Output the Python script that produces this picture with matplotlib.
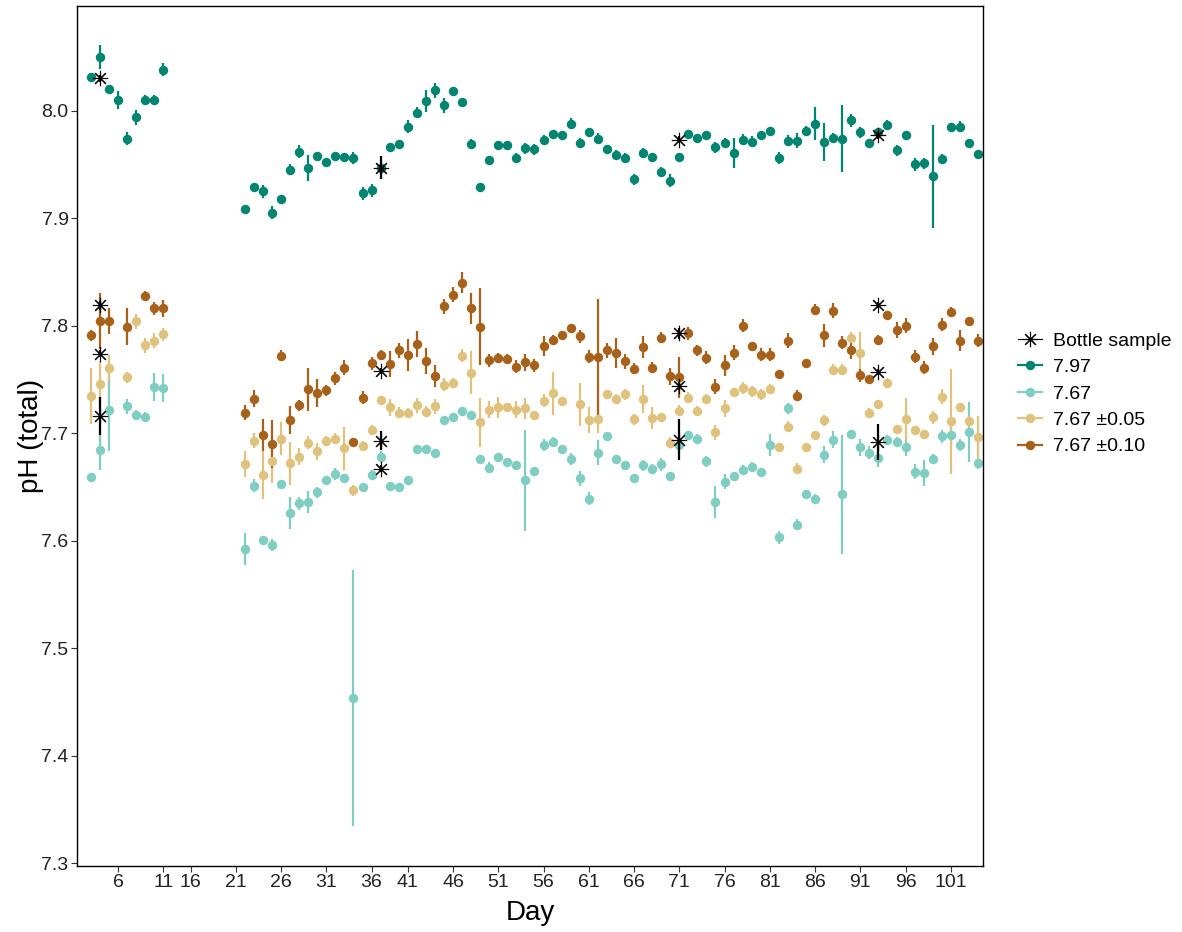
import numpy as np
import matplotlib.pyplot as plt
from matplotlib.lines import Line2D

plt.rcParams['font.family'] = ['Liberation Sans', 'DejaVu Sans']

# Sampling days (discrete axis levels, in plotting order)
days = ([2, 3, 4, 5, 6, 7, 8, 9, 10, 11, 12, 13]
        + list(range(16, 40)) + list(range(41, 105)))
tick_days = [6, 11, 16, 21, 26, 31, 36, 41, 46, 51, 56, 61, 66, 71, 76, 81, 86, 91, 96, 101]
nan = np.nan

# 7.97 treatment -- mean pH and error, one entry per level in `days`
ph_797 = [
    nan, 8.031, 8.050, 8.020, 8.010, 7.974, 7.994, 8.010, 8.010, 8.038,   # 2-11
    nan, nan, nan, nan, nan, nan, nan, nan,                               # 12-21
    7.909, 7.929, 7.925, 7.905, 7.918, 7.945, 7.962, 7.947, 7.958, 7.952,  # 22-31
    7.958, 7.957, 7.956, 7.923, 7.926, 7.947, 7.966, 7.969,                # 32-39
    7.985, 7.998, 8.009, 8.019, 8.005, 8.018, 8.008, 7.969, 7.929, 7.954,  # 41-50
    7.968, 7.968, 7.956, 7.965, 7.964, 7.973, 7.978, 7.977, 7.988, 7.970,  # 51-60
    7.980, 7.974, 7.964, 7.959, 7.956, 7.936, 7.961, 7.957, 7.943, 7.935,  # 61-70
    7.957, 7.978, 7.975, 7.977, 7.966, 7.970, 7.961, 7.973, 7.971, 7.977,  # 71-80
    7.981, 7.956, 7.972, 7.972, 7.981, 7.988, 7.971, 7.975, 7.974, 7.991,  # 81-90
    7.980, 7.970, 7.980, 7.987, 7.963, 7.977, 7.950, 7.951, 7.939, 7.955,  # 91-100
    7.985, 7.985, 7.970, 7.960]                                           # 101-104
err_797 = [
    nan, 0.004, 0.011, 0.004, 0.008, 0.006, 0.007, 0.005, 0.005, 0.006,
    nan, nan, nan, nan, nan, nan, nan, nan,
    0.003, 0.003, 0.006, 0.006, 0.004, 0.005, 0.006, 0.012, 0.003, 0.004,
    0.003, 0.003, 0.006, 0.006, 0.006, 0.004, 0.004, 0.004,
    0.006, 0.005, 0.010, 0.007, 0.007, 0.003, 0.003, 0.005, 0.003, 0.004,
    0.003, 0.003, 0.005, 0.005, 0.005, 0.004, 0.003, 0.003, 0.005, 0.005,
    0.004, 0.005, 0.004, 0.004, 0.005, 0.005, 0.004, 0.004, 0.005, 0.006,
    0.004, 0.003, 0.003, 0.003, 0.005, 0.005, 0.014, 0.005, 0.005, 0.003,
    0.003, 0.006, 0.005, 0.007, 0.005, 0.015, 0.018, 0.004, 0.031, 0.006,
    0.005, 0.003, 0.004, 0.004, 0.005, 0.003, 0.006, 0.005, 0.048, 0.005,
    0.004, 0.005, 0.003, 0.003]

# 7.67 treatment
ph_767 = [
    nan, 7.659, 7.684, 7.722, nan, 7.725, 7.717, 7.715, 7.743, 7.742,
    nan, nan, nan, nan, nan, nan, nan, nan,
    7.592, 7.651, 7.601, 7.596, 7.653, 7.626, 7.635, 7.636, 7.645, 7.656,
    7.662, 7.658, 7.454, 7.650, 7.661, 7.678, 7.651, 7.650,
    7.656, 7.685, 7.685, 7.682, 7.712, 7.715, 7.721, 7.717, 7.676, 7.668,
    7.678, 7.673, 7.670, 7.656, 7.665, 7.689, 7.692, 7.685, 7.676, 7.658,
    7.639, 7.682, 7.697, 7.676, 7.670, 7.658, 7.670, 7.667, 7.671, 7.660,
    7.689, 7.698, 7.695, 7.674, 7.636, 7.655, 7.660, 7.666, 7.669, 7.664,
    7.689, 7.603, 7.723, 7.615, 7.643, 7.639, 7.680, 7.694, 7.643, 7.699,
    7.687, 7.682, 7.677, 7.694, 7.692, 7.687, 7.664, 7.663, 7.676, 7.697,
    7.698, 7.689, 7.701, 7.672]
err_767 = [
    nan, 0.003, 0.018, 0.039, nan, 0.007, 0.005, 0.005, 0.013, 0.013,
    nan, nan, nan, nan, nan, nan, nan, nan,
    0.015, 0.006, 0.002, 0.006, 0.003, 0.015, 0.006, 0.010, 0.005, 0.004,
    0.006, 0.004, 0.119, 0.004, 0.005, 0.005, 0.004, 0.003,
    0.004, 0.004, 0.003, 0.003, 0.004, 0.004, 0.003, 0.003, 0.004, 0.005,
    0.004, 0.003, 0.003, 0.047, 0.004, 0.006, 0.004, 0.004, 0.006, 0.007,
    0.006, 0.012, 0.004, 0.004, 0.004, 0.004, 0.005, 0.004, 0.006, 0.003,
    0.004, 0.004, 0.004, 0.005, 0.015, 0.007, 0.004, 0.004, 0.004, 0.004,
    0.010, 0.006, 0.005, 0.005, 0.004, 0.004, 0.008, 0.008, 0.055, 0.004,
    0.008, 0.006, 0.008, 0.004, 0.004, 0.008, 0.007, 0.012, 0.005, 0.006,
    0.010, 0.006, 0.028, 0.005]

# 7.67 +/-0.05 fluctuating treatment
ph_005 = [
    nan, 7.735, 7.746, 7.761, nan, 7.752, 7.804, 7.782, 7.786, 7.792,
    nan, nan, nan, nan, nan, nan, nan, nan,
    7.671, 7.693, 7.661, 7.674, 7.695, 7.672, 7.678, 7.691, 7.683, 7.693,
    7.695, 7.686, 7.647, 7.688, 7.703, 7.731, 7.724, 7.719,
    7.719, 7.726, 7.720, 7.725, 7.745, 7.747, 7.772, 7.756, 7.710, 7.722,
    7.724, 7.724, 7.722, 7.723, 7.717, 7.730, 7.737, 7.730, nan, 7.727,
    7.712, 7.713, 7.736, 7.732, 7.736, 7.713, 7.732, 7.714, 7.715, 7.691,
    7.721, 7.733, 7.721, 7.732, 7.701, 7.723, 7.738, 7.742, 7.739, 7.736,
    7.741, 7.687, 7.706, 7.667, 7.687, 7.698, 7.712, 7.759, 7.759, 7.789,
    7.775, 7.719, 7.727, 7.747, 7.704, 7.713, 7.703, 7.699, 7.715, 7.734,
    7.711, 7.724, 7.711, 7.696]
err_005 = [
    nan, 0.026, 0.020, 0.012, nan, 0.005, 0.007, 0.007, 0.007, 0.006,
    nan, nan, nan, nan, nan, nan, nan, nan,
    0.012, 0.007, 0.022, 0.020, 0.015, 0.020, 0.008, 0.006, 0.008, 0.004,
    0.005, 0.020, 0.005, 0.005, 0.005, 0.004, 0.008, 0.005,
    0.004, 0.007, 0.005, 0.007, 0.006, 0.004, 0.006, 0.020, 0.023, 0.008,
    0.010, 0.004, 0.008, 0.010, 0.004, 0.006, 0.020, 0.004, nan, 0.020,
    0.012, 0.013, 0.004, 0.004, 0.005, 0.005, 0.013, 0.010, 0.004, 0.005,
    0.005, 0.005, 0.004, 0.004, 0.007, 0.008, 0.004, 0.006, 0.005, 0.005,
    0.005, 0.004, 0.005, 0.005, 0.004, 0.004, 0.005, 0.005, 0.005, 0.005,
    0.019, 0.004, 0.004, 0.004, 0.004, 0.020, 0.004, 0.004, 0.006, 0.007,
    0.049, 0.004, 0.005, 0.020]

# 7.67 +/-0.10 fluctuating treatment
ph_010 = [
    nan, 7.791, 7.804, 7.804, nan, 7.799, nan, 7.828, 7.816, 7.816,
    nan, nan, nan, nan, nan, nan, nan, nan,
    7.719, 7.732, 7.698, 7.690, 7.772, 7.712, 7.726, 7.741, 7.737, 7.740,
    7.751, 7.761, 7.692, 7.733, 7.765, 7.773, 7.764, 7.777,
    7.773, 7.783, 7.767, 7.753, 7.818, 7.829, 7.840, 7.816, 7.799, 7.768,
    7.770, 7.769, 7.762, 7.766, 7.763, 7.781, 7.787, 7.791, 7.798, 7.790,
    7.771, 7.771, 7.777, 7.775, 7.767, 7.760, 7.780, 7.761, 7.789, 7.753,
    7.752, 7.793, 7.777, 7.770, 7.743, 7.763, 7.775, 7.800, 7.781, 7.773,
    7.773, 7.755, 7.786, 7.735, 7.765, 7.815, 7.791, 7.814, 7.784, 7.777,
    7.754, 7.750, 7.787, 7.810, 7.796, 7.800, 7.771, 7.761, 7.781, 7.801,
    7.813, 7.786, 7.804, 7.786]
err_010 = [
    nan, 0.005, 0.026, 0.012, nan, 0.017, nan, 0.004, 0.006, 0.008,
    nan, nan, nan, nan, nan, nan, nan, nan,
    0.007, 0.008, 0.015, 0.022, 0.005, 0.013, 0.005, 0.020, 0.013, 0.005,
    0.006, 0.007, 0.003, 0.006, 0.006, 0.004, 0.012, 0.007,
    0.015, 0.012, 0.012, 0.010, 0.007, 0.007, 0.010, 0.014, 0.036, 0.006,
    0.005, 0.005, 0.006, 0.008, 0.006, 0.009, 0.004, 0.004, 0.004, 0.006,
    0.006, 0.054, 0.007, 0.014, 0.007, 0.005, 0.010, 0.005, 0.005, 0.008,
    0.019, 0.006, 0.005, 0.006, 0.007, 0.010, 0.007, 0.006, 0.004, 0.006,
    0.006, 0.004, 0.007, 0.005, 0.004, 0.005, 0.011, 0.007, 0.006, 0.008,
    0.006, 0.004, 0.004, 0.004, 0.007, 0.007, 0.006, 0.006, 0.008, 0.006,
    0.004, 0.010, 0.004, 0.006]

# discrete bottle samples
bottle_days = [4, 4, 4, 4, 37, 37, 37, 37, 71, 71, 71, 71, 93, 93, 93, 93]
bottle_ph = [8.030, 7.819, 7.774, 7.716, 7.947, 7.758, 7.693, 7.667,
             7.973, 7.793, 7.744, 7.694, 7.977, 7.819, 7.757, 7.692]
bottle_err = [0.003, 0.004, 0.003, 0.018, 0.011, 0.003, 0.009, 0.003,
              0.003, 0.005, 0.004, 0.019, 0.003, 0.003, 0.003, 0.017]

series = [
    ("7.97", ph_797, err_797, "#018571"),
    ("7.67", ph_767, err_767, "#80CDC1"),
    ("7.67 \u00b10.05", ph_005, err_005, "#DFC27D"),
    ("7.67 \u00b10.10", ph_010, err_010, "#A6611A"),
]

pos = {d: i for i, d in enumerate(days)}
x = np.arange(len(days))

fig = plt.figure(figsize=(11.82, 9.32), dpi=100)
ax = fig.add_axes([0.0651, 0.0708, 0.7665, 0.9228])

handles = []
for label, ph, err, col in series:
    ax.errorbar(x, ph, yerr=err, fmt='o', color=col, ms=6.8, mew=0,
                elinewidth=1.6, capsize=0, zorder=2)
    handles.append(Line2D([], [], color=col, marker='o', ms=6.8, mew=0, lw=1.6))

bx = [pos[d] for d in bottle_days]
ax.errorbar(bx, bottle_ph, yerr=bottle_err, fmt='none', ecolor='black',
            elinewidth=1.6, capsize=0, zorder=3)
ax.plot(bx, bottle_ph, ls='none', marker=(8, 2, 0), ms=11, mew=0.8,
        color='black', zorder=4)
handles.insert(0, Line2D([], [], color='black', marker=(8, 2, 0), ms=11,
                         mew=0.8, lw=0.8))
labels = ["Bottle sample"] + [s[0] for s in series]

ax.set_xlim(-0.55, len(days) - 0.45)
ax.set_ylim(7.2974, 8.0974)
ax.set_xticks([pos[d] for d in tick_days])
ax.set_xticklabels([str(d) for d in tick_days])
ax.set_yticks([7.3, 7.4, 7.5, 7.6, 7.7, 7.8, 7.9, 8.0])
ax.set_yticklabels(["7.3", "7.4", "7.5", "7.6", "7.7", "7.8", "7.9", "8.0"])
ax.tick_params(axis='both', labelsize=14, length=4, width=0.8, color='#333333',
               labelcolor='#222222', pad=2)
for sp in ax.spines.values():
    sp.set_color('black')
    sp.set_linewidth(1.0)

ax.set_xlabel("Day", fontsize=20, labelpad=6)
ax.set_ylabel("pH (total)", fontsize=20, labelpad=-2)

ax.legend(handles, labels, loc='center left', bbox_to_anchor=(1.0386, 0.549),
          frameon=False, fontsize=14, handlelength=1.25, handletextpad=0.55,
          labelspacing=0.45, borderaxespad=0, borderpad=0)

fig.savefig("out.png", dpi=100)
